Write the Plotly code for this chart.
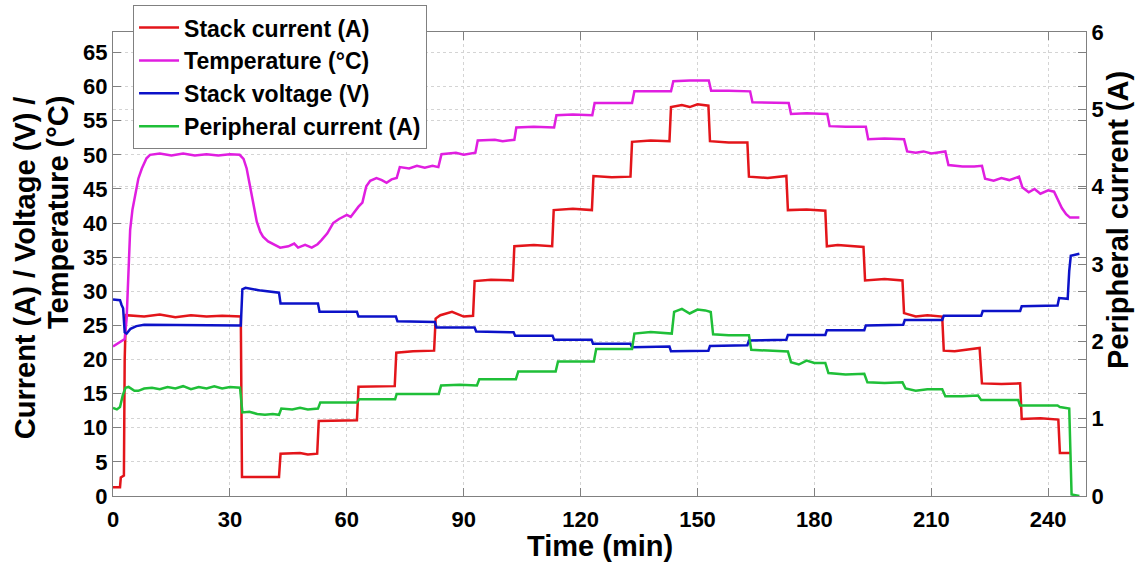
import plotly.graph_objects as go

# ---- Data (time in minutes) ----
t_stack = [0, 1.8, 2.0, 2.6, 2.8, 3.0, 3.3, 8, 12, 16, 20, 24, 28, 32.8,
           33.1, 42.6, 43.0, 48, 50, 52.4, 52.8, 62.6, 63.0, 72.3, 72.7, 77, 82.4,
           82.8, 84, 87, 90, 92.4, 92.8, 97, 102.6, 103.0, 108, 112.7, 113.1, 118, 122.9,
           123.3, 128, 132.8, 133.2, 138, 142.8, 143.2, 146, 148, 150, 152.8, 153.2, 158, 162.8,
           163.2, 168, 172.8, 173.2, 178, 182.8, 183.2, 186, 192.6, 193.0, 198, 202.6,
           203.0, 206, 209, 212.8, 213.2, 216, 222.4, 223.0, 228, 232.8, 233.2, 238, 242.6,
           243.0, 245.6]
i_stack = [1.3, 1.3, 2.7, 3.0, 3.0, 20.0, 26.5, 26.3, 26.6, 26.2, 26.5, 26.3, 26.4, 26.3,
           2.8, 2.8, 6.2, 6.3, 6.1, 6.2, 11.0, 11.1, 16.0, 16.1, 21.0, 21.2, 21.3,
           26.0, 26.5, 27.0, 26.3, 26.4, 31.5, 31.7, 31.6, 36.6, 36.8, 36.6, 41.9, 42.1, 41.9,
           46.9, 46.7, 46.8, 51.9, 52.1, 52.0, 57.0, 57.3, 57.0, 57.4, 57.2, 52.0, 51.8, 51.8,
           46.8, 46.6, 46.9, 41.9, 42.0, 41.8, 36.6, 36.8, 36.5, 31.6, 31.8, 31.6,
           26.8, 26.3, 26.5, 26.3, 21.3, 21.2, 21.7, 16.5, 16.4, 16.5, 11.3, 11.4, 11.2,
           6.3, 6.3]

t_temp = [0, 1.5, 3.0, 3.5, 4.0, 4.4, 5.0, 5.6, 6.5, 7.4, 8.6, 9.5, 12, 15, 18, 21, 24, 27, 30,
          32.5, 33.5, 34.3, 35.0, 35.6, 36.3, 36.9, 37.8, 38.5, 39.8, 41.5, 42.9, 45.0, 46.5,
          47.5, 49.3, 51.0, 52.5, 53.5, 55, 56.5, 58, 60, 61, 63, 64, 65, 66, 67.6, 69, 70.2,
          71.5, 72.8, 73.6, 76, 78, 80, 82, 83.5, 84.3, 88, 90, 93.0, 93.6, 98, 100, 103.0,
          103.5, 108, 113.2, 113.8, 118, 123.0, 123.6, 128, 133.2, 133.8, 138, 143.2, 143.8,
          148, 152.9, 153.5, 158, 163.5, 164.1, 168, 173.4, 174, 178, 183.3, 183.9, 188, 193.2,
          193.8, 198, 203.0, 203.8, 206, 208, 210, 213.6, 214.4, 218, 221, 223.0, 223.8, 226,
          228, 230, 232.5, 233.4, 235, 236.5, 238, 240, 241.5, 242.5, 243.5, 244.6, 245.6, 248]
temp = [21.9, 22.4, 23.0, 26.0, 33.0, 39.0, 42.0, 43.6, 46.5, 48.0, 49.5, 50.0, 50.2, 49.9,
        50.2, 49.9, 50.1, 49.9, 50.1, 50.0, 49.4, 48.0, 46.0, 44.1, 42.0, 40.2, 38.7, 38.0,
        37.3, 36.8, 36.4, 36.6, 37.0, 36.4, 36.8, 36.4, 36.9, 37.5, 38.5, 40.0, 40.6, 41.2,
        40.9, 42.4, 43.0, 45.4, 46.2, 46.6, 46.3, 45.9, 46.4, 46.6, 48.2, 48.0, 48.4, 48.1,
        48.4, 48.2, 50.1, 50.3, 50.0, 50.3, 52.1, 52.2, 52.0, 52.2, 54.0, 54.1, 54.0, 55.8,
        55.9, 55.8, 57.6, 57.6, 57.6, 59.3, 59.3, 59.3, 60.8, 60.9, 60.9, 59.4, 59.4, 59.3,
        57.7, 57.7, 57.6, 56.0, 56.1, 56.0, 54.2, 54.1, 54.1, 52.3, 52.4, 52.3, 50.5, 50.3,
        50.5, 50.2, 50.5, 48.5, 48.3, 48.3, 48.4, 46.5, 46.2, 46.6, 46.3, 46.8, 45.2, 44.5,
        45.0, 44.3, 44.8, 44.6, 43.5, 42.2, 41.3, 40.8, 40.8]

t_volt = [0, 1.8, 2.2, 2.6, 3.0, 3.5, 4.5, 6, 8, 15, 25, 32.8, 33.2, 34, 38, 42.6, 43.0, 52.6,
          53.0, 62.6, 63.0, 72.6, 73.0, 82.6, 83.0, 92.8, 93.2, 102.8, 103.2, 112.8, 113.2,
          122.8, 123.2, 132.8, 133.2, 142.8, 143.2, 152.8, 153.2, 162.8, 163.2, 172.8, 173.2,
          182.8, 183.2, 192.8, 193.2, 202.8, 203.2, 212.8, 213.2, 222.8, 223.2, 232.8, 233.2,
          242.4, 242.8, 245.0, 245.4, 245.8, 248]
volt = [28.8, 28.7, 28.0, 27.5, 24.0, 23.8, 24.5, 24.9, 25.1, 25.1, 25.0, 25.0, 30.3, 30.5,
        30.1, 29.8, 28.2, 28.2, 27.0, 27.0, 26.3, 26.3, 25.6, 25.5, 24.7, 24.7, 24.1, 24.0,
        23.5, 23.5, 22.9, 22.9, 22.3, 22.3, 21.8, 21.9, 21.2, 21.3, 22.0, 22.1, 22.8, 22.9,
        23.6, 23.6, 24.3, 24.3, 25.0, 25.1, 25.8, 25.8, 26.4, 26.4, 27.1, 27.1, 27.8, 27.9,
        29.0, 28.9, 33.0, 35.2, 35.5]

t_peri = [0, 1.0, 1.8, 2.5, 3.2, 4.0, 5.5, 6.5, 8, 10, 12, 14, 16, 18, 20, 22, 24, 26, 28, 30,
          32.6, 33.2, 35, 37, 39, 41, 42.6, 43.2, 46, 48, 50, 52.6, 53.2, 62.6, 63.2, 72.4,
          72.8, 83.6, 84.2, 89, 93.4, 94.0, 103.4, 104.0, 113.6, 114.2, 123.4, 124.0, 133.2,
          133.8, 138, 143.4, 144.0, 146, 148, 150, 152, 153.4, 154.0, 158, 163.2, 163.8, 168,
          173.2, 174.0, 176, 178, 180, 182.8, 183.6, 188, 192.8, 193.6, 198, 202.6, 203.4, 206,
          209, 212.8, 213.6, 218, 222, 222.8, 232.3, 232.8, 242.4, 243, 245.4, 246.0, 248]
peri = [1.14, 1.12, 1.15, 1.30, 1.40, 1.41, 1.36, 1.36, 1.39, 1.40, 1.38, 1.41, 1.39, 1.42,
        1.38, 1.41, 1.39, 1.42, 1.39, 1.41, 1.40, 1.08, 1.09, 1.06, 1.05, 1.06, 1.05, 1.13,
        1.12, 1.14, 1.12, 1.13, 1.21, 1.21, 1.25, 1.25, 1.32, 1.32, 1.43, 1.44, 1.43, 1.51,
        1.51, 1.61, 1.61, 1.74, 1.74, 1.90, 1.90, 2.10, 2.12, 2.10, 2.38, 2.42, 2.36, 2.41,
        2.40, 2.38, 2.09, 2.08, 2.08, 1.89, 1.88, 1.87, 1.73, 1.70, 1.75, 1.72, 1.72, 1.59,
        1.57, 1.58, 1.47, 1.46, 1.47, 1.39, 1.36, 1.38, 1.38, 1.29, 1.29, 1.30, 1.24, 1.24,
        1.17, 1.17, 1.15, 1.13, 0.02, 0.0]

x_ticks = [0, 30, 60, 90, 120, 150, 180, 210, 240]
y_left_ticks = [0, 5, 10, 15, 20, 25, 30, 35, 40, 45, 50, 55, 60, 65]
y_right_ticks = [0, 1, 2, 3, 4, 5, 6]

FONT = "Liberation Sans, Arial, sans-serif"
RED, MAG, BLUE, GREEN = "#e3151a", "#e01ee0", "#0c12c8", "#1fbf38"

fig = go.Figure()
fig.add_trace(go.Scatter(x=t_stack, y=i_stack, mode="lines", name="Stack current (A)",
                         line=dict(color=RED, width=2.5)))
fig.add_trace(go.Scatter(x=t_temp, y=temp, mode="lines", name="Temperature (°C)",
                         line=dict(color=MAG, width=2.5)))
fig.add_trace(go.Scatter(x=t_volt, y=volt, mode="lines", name="Stack voltage (V)",
                         line=dict(color=BLUE, width=2.5)))
fig.add_trace(go.Scatter(x=t_peri, y=peri, mode="lines", name="Peripheral current (A)",
                         yaxis="y2", line=dict(color=GREEN, width=2.5)))

tickfont = dict(family=FONT, size=22, color="black", weight="bold")
grid = dict(showgrid=True, gridcolor="#d4d4d4", griddash="dot", gridwidth=1)

fig.update_layout(
    width=1145, height=562,
    margin=dict(l=113, r=59, t=32, b=66, autoexpand=False),
    paper_bgcolor="white", plot_bgcolor="white",
    font=dict(family=FONT, color="black"),
    showlegend=True,
    legend=dict(x=0.0206, y=1.058, xanchor="left", yanchor="top",
                bgcolor="white", bordercolor="#808080", borderwidth=1,
                font=dict(family=FONT, size=23, color="black", weight="bold"),
                tracegroupgap=0, itemwidth=40),
    xaxis=dict(range=[0, 249.7], tickvals=x_ticks, ticks="inside", ticklen=8,
               tickcolor="#808080", showline=True, linecolor="#808080", linewidth=1,
               mirror="ticks", tickfont=tickfont, zeroline=False, ticklabelstandoff=4,
               **grid),
    yaxis=dict(range=[0, 68], tickvals=y_left_ticks, ticks="inside", ticklen=8,
               tickcolor="#808080", showline=True, linecolor="#808080", linewidth=1,
               mirror="ticks", tickfont=tickfont, zeroline=False, **grid),
    yaxis2=dict(range=[0, 6], tickvals=y_right_ticks, ticks="inside", ticklen=8,
                tickcolor="#808080", showline=True, linecolor="#808080", linewidth=1,
                overlaying="y", side="right", tickfont=tickfont, zeroline=False, **grid),
)

title_font = dict(family=FONT, size=29, color="black", weight="bold")
fig.add_annotation(text="Time (min)", xref="paper", yref="paper",
                   x=0.5, y=-0.107, showarrow=False,
                   xanchor="center", yanchor="middle", font=title_font)
fig.add_annotation(text="Current (A) / Voltage (V) /", xref="paper", yref="paper",
                   x=-0.0904, y=0.491, textangle=-90, showarrow=False,
                   xanchor="center", yanchor="middle", font=title_font)
fig.add_annotation(text="Temperature (°C)", xref="paper", yref="paper",
                   x=-0.0565, y=0.610, textangle=-90, showarrow=False,
                   xanchor="center", yanchor="middle", font=title_font)
fig.add_annotation(text="Peripheral current (A)", xref="paper", yref="paper",
                   x=1.033, y=0.595, textangle=-90, showarrow=False,
                   xanchor="center", yanchor="middle", font=title_font)

fig.write_html("out.html")
